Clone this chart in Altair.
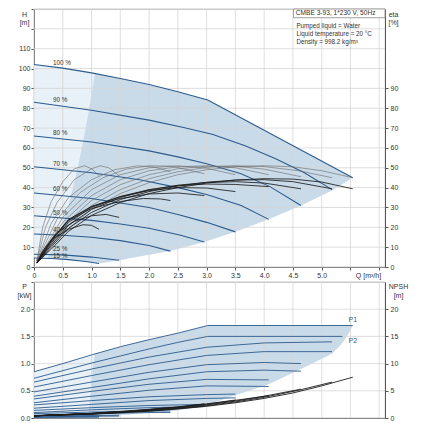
import altair as alt
import pandas as pd

# ---------------- data ----------------
SPEED_LABELS = ["100 %", "90 %", "80 %", "70 %", "60 %", "50 %", "40 %", "25 %", "15 %"]
LABEL_Q = 0.33
LABEL_H = [102.6, 84.0, 67.6, 51.7, 39.3, 27.4, 18.4, 8.9, 5.3]

# head curves (Q [m3/h], H [m])
H_100 = [(0, 102), (0.5, 100.2), (1.0, 97.8), (1.5, 95.0), (2.0, 92.0), (2.5, 88.3), (3.02, 84.2), (5.54, 45)]
H_90 = [(0, 83), (1, 79), (2, 74), (2.6, 70.3), (3.11, 66.8), (3.68, 61), (4.2, 54.5), (4.7, 47.5), (5.18, 39)]
H_80 = [(0, 66), (1, 63), (2, 58.5), (2.5, 55.5), (3, 52), (3.6, 47), (4.1, 40.5), (4.64, 31)]
H_70 = [(0, 50.5), (1, 47.5), (1.86, 43.8), (2.5, 40), (3, 36.5), (3.6, 31), (4.08, 24)]
H_60 = [(0, 37.3), (1, 34.5), (2, 30), (2.5, 26.5), (3, 22.5), (3.5, 17.7)]
H_50 = [(0, 25.8), (1, 23.5), (1.5, 21.7), (2, 19.5), (2.55, 16), (2.96, 12.6)]
H_40 = [(0, 16.6), (0.5, 16), (1, 15), (1.5, 13.3), (2, 10.8), (2.37, 8)]
H_25 = [(0, 6.4), (0.5, 6.1), (1, 5), (1.48, 3.4)]
H_15 = [(0, 4.5), (0.3, 4.3), (0.6, 3.7), (0.9, 2.8), (1.13, 1.8)]

# total efficiency curves (eta [%])
ET_100 = [(0.05, 2), (0.3, 9), (0.6, 18), (1.0, 26), (1.5, 32.5), (2.0, 37), (2.5, 40), (3.0, 42.3), (3.5, 43.8), (4.0, 44.5), (4.5, 44.3), (5.0, 42.8), (5.54, 39.4)]
ET_90 = [(0.05, 2), (0.3, 10), (0.6, 19.5), (1.0, 27.5), (1.5, 34), (2.0, 38), (2.5, 40.8), (3.0, 42.7), (3.5, 43.8), (4.0, 44), (4.5, 43), (5.18, 39.4)]
ET_80 = [(0.05, 2), (0.3, 11), (0.6, 21), (1.0, 29), (1.5, 35), (2.0, 38.8), (2.5, 41.2), (3.0, 42.6), (3.5, 43), (4.0, 42.3), (4.64, 39.4)]
ET_70 = [(0.05, 2), (0.3, 12), (0.6, 22.5), (1.0, 30), (1.5, 35.5), (2.0, 39), (2.5, 41), (3.0, 41.8), (3.5, 41.6), (4.08, 40.5)]
ET_60 = [(0.05, 2), (0.3, 13), (0.6, 23.5), (1.0, 30.5), (1.5, 35.5), (2.0, 38.5), (2.5, 40), (3.0, 39.8), (3.5, 38)]
ET_50 = [(0.05, 2), (0.3, 13.5), (0.6, 24), (1.0, 30.5), (1.5, 34.5), (2.0, 36.8), (2.5, 37.3), (2.96, 36)]
ET_40 = [(0.05, 2), (0.3, 13.5), (0.6, 23.5), (1.0, 29.5), (1.5, 33), (1.9, 34.5), (2.2, 34.3), (2.37, 33.5)]
ET_25 = [(0.05, 2), (0.2, 10), (0.4, 17.5), (0.7, 23), (1.0, 25.8), (1.25, 26.5), (1.48, 25)]
ET_15 = [(0.05, 2), (0.15, 8), (0.35, 14.5), (0.6, 19), (0.85, 21.3), (1.0, 21), (1.13, 19)]

# pump efficiency curves (eta [%])
EP_100 = [(0.05, 3), (0.5, 17), (1.0, 29), (1.5, 37), (2.0, 42.5), (2.5, 46.5), (3.0, 49), (3.5, 50.5), (4.0, 51), (4.5, 50.5), (5.0, 48.5), (5.54, 45)]
EP_90 = [(0.05, 3), (0.5, 18.5), (1.0, 31), (1.5, 39), (2.0, 44.5), (2.5, 48), (3.0, 50.2), (3.5, 51), (4.0, 50.6), (4.6, 48.5), (5.18, 45)]
EP_80 = [(0.05, 3), (0.5, 20.5), (1.0, 33.5), (1.5, 41.5), (2.0, 46.5), (2.5, 49.5), (3.0, 50.8), (3.5, 50.8), (4.0, 49.3), (4.64, 45.5)]
EP_70 = [(0.05, 3), (0.5, 22.5), (1.0, 36), (1.5, 44), (2.0, 48.5), (2.5, 50.5), (3.0, 51), (3.5, 50), (4.08, 46.5)]
EP_60 = [(0.05, 3), (0.5, 25), (1.0, 39), (1.5, 46.5), (2.0, 50), (2.5, 51), (3.0, 49.8), (3.5, 46.5)]
EP_50 = [(0.05, 3), (0.4, 24), (0.8, 37.5), (1.2, 45), (1.6, 49.3), (2.0, 51), (2.4, 50.8), (2.96, 47)]
EP_40 = [(0.05, 3), (0.3, 22), (0.6, 35), (1.0, 44), (1.4, 49), (1.8, 51), (2.1, 50.3), (2.37, 48)]
EP_25 = [(0.05, 3), (0.2, 20), (0.4, 32.5), (0.7, 44), (1.0, 49.5), (1.15, 51), (1.3, 50), (1.48, 46)]
EP_15 = [(0.05, 3), (0.15, 20), (0.3, 33), (0.5, 43), (0.7, 49.5), (0.88, 51), (1.0, 49.5), (1.13, 46)]

# power curves (P [kW])
P1_100 = [(0, 0.85), (0.5, 1.0), (1.0, 1.16), (1.5, 1.31), (2.0, 1.44), (2.5, 1.56), (3.02, 1.7), (5.54, 1.7)]
P2_100 = [(0, 0.73), (0.5, 0.87), (1.0, 1.01), (1.5, 1.14), (2.0, 1.27), (2.5, 1.39), (3.02, 1.5), (5.36, 1.5)]
P1_90 = [(0, 0.66), (1.0, 0.9), (2.0, 1.12), (3.0, 1.3), (4.0, 1.38), (5.18, 1.4)]
P2_90 = [(0, 0.57), (1.0, 0.78), (2.0, 0.98), (3.0, 1.15), (4.0, 1.22), (5.18, 1.22)]
P1_80 = [(0, 0.48), (1, 0.66), (2, 0.84), (3, 0.98), (4, 1.02), (4.64, 1.0)]
P2_80 = [(0, 0.4), (1, 0.56), (2, 0.72), (3, 0.85), (4, 0.88), (4.64, 0.86)]
P1_70 = [(0, 0.35), (1, 0.49), (2, 0.62), (3, 0.71), (4.08, 0.7)]
P2_70 = [(0, 0.28), (1, 0.4), (2, 0.51), (3, 0.59), (4.08, 0.58)]
P1_60 = [(0, 0.24), (1, 0.32), (2, 0.39), (3, 0.43), (3.5, 0.44)]
P2_60 = [(0, 0.18), (1, 0.25), (2, 0.32), (3, 0.36), (3.5, 0.37)]
P1_50 = [(0, 0.14), (1, 0.19), (2, 0.23), (2.96, 0.25)]
P2_50 = [(0, 0.1), (1, 0.15), (2, 0.19), (2.96, 0.21)]
P1_40 = [(0, 0.08), (1, 0.11), (2, 0.13), (2.37, 0.13)]
P2_40 = [(0, 0.05), (1, 0.08), (2, 0.1), (2.37, 0.1)]
P1_25 = [(0, 0.035), (0.8, 0.045), (1.48, 0.05)]
P2_25 = [(0, 0.02), (0.8, 0.03), (1.48, 0.035)]
P1_15 = [(0, 0.02), (1.13, 0.025)]
P2_15 = [(0, 0.01), (1.13, 0.015)]

# NPSH curves (NPSH [m])
N_100 = [(0, 0.4), (1.0, 0.7), (1.5, 0.95), (2.0, 1.25), (2.5, 1.65), (3.0, 2.15), (3.5, 2.8), (4.0, 3.6), (4.5, 4.6), (5.0, 5.9), (5.54, 7.5)]
N_90 = [(0, 0.4), (1.0, 0.72), (1.5, 1.0), (2.0, 1.3), (2.5, 1.72), (3.0, 2.25), (3.5, 2.95), (4.0, 3.8), (4.6, 5.1), (5.18, 6.6)]
N_80 = [(0, 0.4), (1.0, 0.75), (1.5, 1.05), (2.0, 1.38), (2.5, 1.8), (3.0, 2.4), (3.5, 3.1), (4.0, 4.0), (4.64, 5.3)]
N_70 = [(0, 0.4), (1.0, 0.78), (1.5, 1.1), (2.0, 1.45), (2.5, 1.9), (3.0, 2.5), (3.5, 3.25), (4.08, 4.1)]
N_60 = [(0, 0.4), (1.0, 0.8), (1.5, 1.12), (2.0, 1.5), (2.5, 2.0), (3.0, 2.6), (3.5, 3.3)]
N_50 = [(0, 0.4), (1.0, 0.82), (1.5, 1.15), (2.0, 1.55), (2.5, 2.05), (2.96, 2.6)]
N_40 = [(0, 0.4), (1.0, 0.84), (1.5, 1.2), (2.0, 1.6), (2.37, 1.95)]
N_25 = [(0, 0.4), (1.0, 0.86), (1.48, 1.2)]
N_15 = [(0, 0.4), (1.13, 0.9)]

# shaded operating ranges
LIGHT_H_Q = [0, 0.5, 1.06]
LIGHT_H_HI = [102, 100.2, 97.4]
LIGHT_H_LO = [4.5, 3.9, 2.2]
DARK_H_H = [1.8, 2.8, 3.7, 4.35, 8, 12.6, 17.7, 24, 31, 38.6, 45, 55, 65, 75, 84.2, 90, 94, 97.4]
DARK_H_QL = [1.13, 0.9, 0.6, 0.225, 0.304, 0.381, 0.452, 0.526, 0.598, 0.667, 0.72, 0.797, 0.866, 0.93, 0.986, 1.019, 1.04, 1.06]
DARK_H_QR = [1.13, 1.35, 1.54, 1.66, 2.37, 2.96, 3.5, 4.08, 4.64, 5.18, 5.54, 4.9, 4.25, 3.61, 3.02, 2.27, 1.67, 1.06]

LIGHT_P_Q = [0, 0.5, 1.0, 1.06]
LIGHT_P_HI = [0.85, 1.0, 1.16, 1.18]
LIGHT_P_LO = [0, 0, 0, 0]
DARK_P_P = [0.03, 0.05, 0.12, 0.22, 0.42, 0.62, 0.9, 1.18, 1.31, 1.44, 1.56, 1.7]
DARK_P_QL = [0.93, 0.935, 0.95, 0.96, 0.98, 1.0, 1.02, 1.06, 1.5, 2.0, 2.5, 3.02]
DARK_P_QR = [1.13, 1.48, 2.37, 2.96, 3.5, 4.08, 4.64, 5.18, 5.3, 5.4, 5.47, 5.54]

Q_TICKS = [0, 0.5, 1.0, 1.5, 2.0, 2.5, 3.0, 3.5, 4.0, 4.5, 5.0, 5.5, 6.0]
H_TICKS = [0, 10, 20, 30, 40, 50, 60, 70, 80, 90, 100, 110, 120, 130]
ETA_TICKS = [0, 10, 20, 30, 40, 50, 60, 70, 80, 90]
P_TICKS = [0, 0.5, 1.0, 1.5, 2.0, 2.5]
NPSH_TICKS = [0, 5, 10, 15, 20]

TITLE_BOX = "CMBE 3-93, 1*230 V, 50Hz"
INFO_LINES = ["Pumped liquid = Water", "Liquid temperature = 20 °C", "Density = 998.2 kg/m³"]
INFO_H = [121.4, 117.3, 113.6]
BOX_Q = (4.51, 6.1)
BOX_H = (125.6, 130)
PLABELS = ["P1", "P2"]
PLABEL_P = [1.8, 1.41]
PLABEL_Q = 5.54

# ---------------- styling ----------------
FONT = "Liberation Sans"
BLUE = "#2c5b8c"
BLACK = "#1c1c1c"
GREY = "#6a6a6a"
DARK = "#c9dae9"
LIGHT = "#e8f0f8"
GRID = "#d6d6d6"
W, HT, HB = 351, 258, 136
QDOM = [0, 6.1]


def curves_df(curves, field):
    rows = []
    for name, pts in zip(SPEED_LABELS, curves):
        for i, (q, v) in enumerate(pts):
            rows.append({"curve": name, "i": i, "Q": q, field: v})
    return pd.DataFrame(rows)


head_df = curves_df([H_100, H_90, H_80, H_70, H_60, H_50, H_40, H_25, H_15], "H")
et_df = curves_df([ET_100, ET_90, ET_80, ET_70, ET_60, ET_50, ET_40, ET_25, ET_15], "eta")
ep_df = curves_df([EP_100, EP_90, EP_80, EP_70, EP_60, EP_50, EP_40, EP_25, EP_15], "eta")
p1_df = curves_df([P1_100, P1_90, P1_80, P1_70, P1_60, P1_50, P1_40, P1_25, P1_15], "P")
p2_df = curves_df([P2_100, P2_90, P2_80, P2_70, P2_60, P2_50, P2_40, P2_25, P2_15], "P")
p2_df["curve"] = p2_df["curve"] + " P2"
p_df = pd.concat([p1_df, p2_df])
n_df = curves_df([N_100, N_90, N_80, N_70, N_60, N_50, N_40, N_25, N_15], "N")

light_h = pd.DataFrame({"Q": LIGHT_H_Q, "hi": LIGHT_H_HI, "lo": LIGHT_H_LO})
dark_h = pd.DataFrame({"H": DARK_H_H, "ql": DARK_H_QL, "qr": DARK_H_QR})
light_p = pd.DataFrame({"Q": LIGHT_P_Q, "hi": LIGHT_P_HI, "lo": LIGHT_P_LO})
dark_p = pd.DataFrame({"P": DARK_P_P, "ql": DARK_P_QL, "qr": DARK_P_QR})
qgrid = pd.DataFrame({"Q": Q_TICKS})
hgrid = pd.DataFrame({"H": H_TICKS})
pgrid = pd.DataFrame({"P": P_TICKS})
lab_df = pd.DataFrame({"label": SPEED_LABELS, "q": LABEL_Q, "h": LABEL_H})
box_df = pd.DataFrame({"q0": [BOX_Q[0]], "q1": [BOX_Q[1]], "h0": [BOX_H[0]], "h1": [BOX_H[1]], "t": [TITLE_BOX]})
info_df = pd.DataFrame({"t": INFO_LINES, "h": INFO_H, "q": BOX_Q[0] + 0.05})
plab_df = pd.DataFrame({"t": PLABELS, "p": PLABEL_P, "q": PLABEL_Q})

QSCALE = alt.Scale(domain=QDOM, nice=False, zero=False)
TOP_X_AXIS = alt.Axis(values=Q_TICKS, grid=False, labelFlush=False,
                      labelExpr="datum.value == 0 ? '0' : (datum.value > 5.2 ? '' : format(datum.value, '.1f'))",
                      title="Q [m³/h]", titleX=334, titleY=4, titleAlign="center", titleBaseline="top")
BOT_X_AXIS = alt.Axis(values=Q_TICKS, grid=False, labels=False, ticks=False, title="")
H_AXIS = alt.Axis(values=H_TICKS, grid=False, labelExpr="datum.value > 110 ? '' : datum.label",
                  title=["H", "[m]"], titleAngle=0, titleX=-10, titleY=1, titleAlign="center",
                  titleBaseline="top", titleLineHeight=8.5)
ETA_AXIS = alt.Axis(values=ETA_TICKS, orient="right", grid=False, labelPadding=2,
                    title=["eta", "[%]"], titleAngle=0, titleX=8, titleY=1, titleAlign="center",
                    titleBaseline="top", titleLineHeight=8.5)
P_AXIS = alt.Axis(values=P_TICKS, grid=False, format=".1f", labelExpr="datum.value > 2.2 ? '' : datum.label",
                  title=["P", "[kW]"], titleAngle=0, titleX=-10, titleY=0.5, titleAlign="center",
                  titleBaseline="top", titleLineHeight=8.5)
N_AXIS = alt.Axis(values=NPSH_TICKS, orient="right", grid=False, labelPadding=2,
                  title=["NPSH", "[m]"], titleAngle=0, titleX=13, titleY=0.5, titleAlign="center",
                  titleBaseline="top", titleLineHeight=8.5)


def XT(f):
    return alt.X(f"{f}:Q", scale=QSCALE, axis=TOP_X_AXIS)


def XB(f):
    return alt.X(f"{f}:Q", scale=QSCALE, axis=BOT_X_AXIS)


def YH(f):
    return alt.Y(f"{f}:Q", scale=alt.Scale(domain=[0, 130], nice=False), axis=H_AXIS)


def YE(f):
    return alt.Y(f"{f}:Q", scale=alt.Scale(domain=[0, 130], nice=False), axis=ETA_AXIS)


def YP(f):
    return alt.Y(f"{f}:Q", scale=alt.Scale(domain=[0, 2.5], nice=False), axis=P_AXIS)


def YN(f):
    return alt.Y(f"{f}:Q", scale=alt.Scale(domain=[0, 25], nice=False), axis=N_AXIS)


# ---------------- top panel ----------------
t_light = alt.Chart(light_h).mark_area(color=LIGHT).encode(x=XT("Q"), y=YH("hi"), y2="lo")
t_dark = alt.Chart(dark_h).mark_area(color=DARK, orient="horizontal").encode(y=YH("H"), x=XT("ql"), x2="qr")
t_vgrid = alt.Chart(qgrid).mark_rule(color=GRID, strokeWidth=0.8).encode(x=XT("Q"))
t_hgrid = alt.Chart(hgrid).mark_rule(color=GRID, strokeWidth=0.8).encode(y=YH("H"))
t_head = alt.Chart(head_df).mark_line(color=BLUE, strokeWidth=1.1).encode(
    x=XT("Q"), y=YH("H"), detail="curve:N", order="i:Q")
t_lab = alt.Chart(lab_df).mark_text(align="left", baseline="middle", font=FONT, fontSize=6.3, color="#333").encode(
    x=XT("q"), y=YH("h"), text="label:N")
t_box = alt.Chart(box_df).mark_rect(fill="white", stroke="#8a8a8a", strokeWidth=0.8).encode(
    x=XT("q0"), x2="q1", y=YH("h0"), y2="h1")
t_boxtxt = alt.Chart(box_df).mark_text(align="left", baseline="middle", font=FONT, fontSize=6.6, color="#333").encode(
    x=XT("q0"), y=YH("h0"), text="t:N").transform_calculate(h0="datum.h0 + 2.3", q0="datum.q0 + 0.04")
t_info = alt.Chart(info_df).mark_text(align="left", baseline="middle", font=FONT, fontSize=6.3, color="#333").encode(
    x=XT("q"), y=YH("h"), text="t:N")

h_layers = alt.layer(t_light, t_dark, t_vgrid, t_hgrid, t_head, t_lab, t_box, t_boxtxt, t_info)

t_ep = alt.Chart(ep_df).mark_line(color=GREY, strokeWidth=0.6).encode(
    x=XT("Q"), y=YE("eta"), detail="curve:N", order="i:Q")
t_et = alt.Chart(et_df).mark_line(color=BLACK, strokeWidth=0.85).encode(
    x=XT("Q"), y=YE("eta"), detail="curve:N", order="i:Q")
eta_layers = alt.layer(t_ep, t_et)

top = alt.layer(h_layers, eta_layers).resolve_scale(y="independent").properties(width=W, height=HT)

# ---------------- bottom panel ----------------
b_light = alt.Chart(light_p).mark_area(color=LIGHT).encode(x=XB("Q"), y=YP("hi"), y2="lo")
b_dark = alt.Chart(dark_p).mark_area(color=DARK, orient="horizontal").encode(y=YP("P"), x=XB("ql"), x2="qr")
b_vgrid = alt.Chart(qgrid).mark_rule(color=GRID, strokeWidth=0.8).encode(x=XB("Q"))
b_hgrid = alt.Chart(pgrid).mark_rule(color=GRID, strokeWidth=0.8).encode(y=YP("P"))
b_p = alt.Chart(p_df).mark_line(color=BLUE, strokeWidth=0.9).encode(
    x=XB("Q"), y=YP("P"), detail="curve:N", order="i:Q")
b_plab = alt.Chart(plab_df).mark_text(align="center", baseline="middle", font=FONT, fontSize=7, color=BLUE).encode(
    x=XB("q"), y=YP("p"), text="t:N")
p_layers = alt.layer(b_light, b_dark, b_vgrid, b_hgrid, b_p, b_plab)

b_n = alt.Chart(n_df).mark_line(color=BLACK, strokeWidth=0.9).encode(
    x=XB("Q"), y=YN("N"), detail="curve:N", order="i:Q")

bottom = alt.layer(p_layers, b_n).resolve_scale(y="independent").properties(width=W, height=HB)

chart = alt.vconcat(top, bottom, spacing=2).properties(
    padding={"left": 8, "top": 0, "right": 2, "bottom": 0}
).configure_view(stroke="#a0a0a0", strokeWidth=0.8).configure_axis(
    labelFont=FONT, labelFontSize=7, labelColor="#333", titleFont=FONT, titleFontSize=7,
    titleFontWeight="normal", titleColor="#333", domainColor="#555", tickColor="#555",
    tickSize=3, labelPadding=1
)

chart.save("out.html", embed_options={"renderer": "svg", "actions": False})
